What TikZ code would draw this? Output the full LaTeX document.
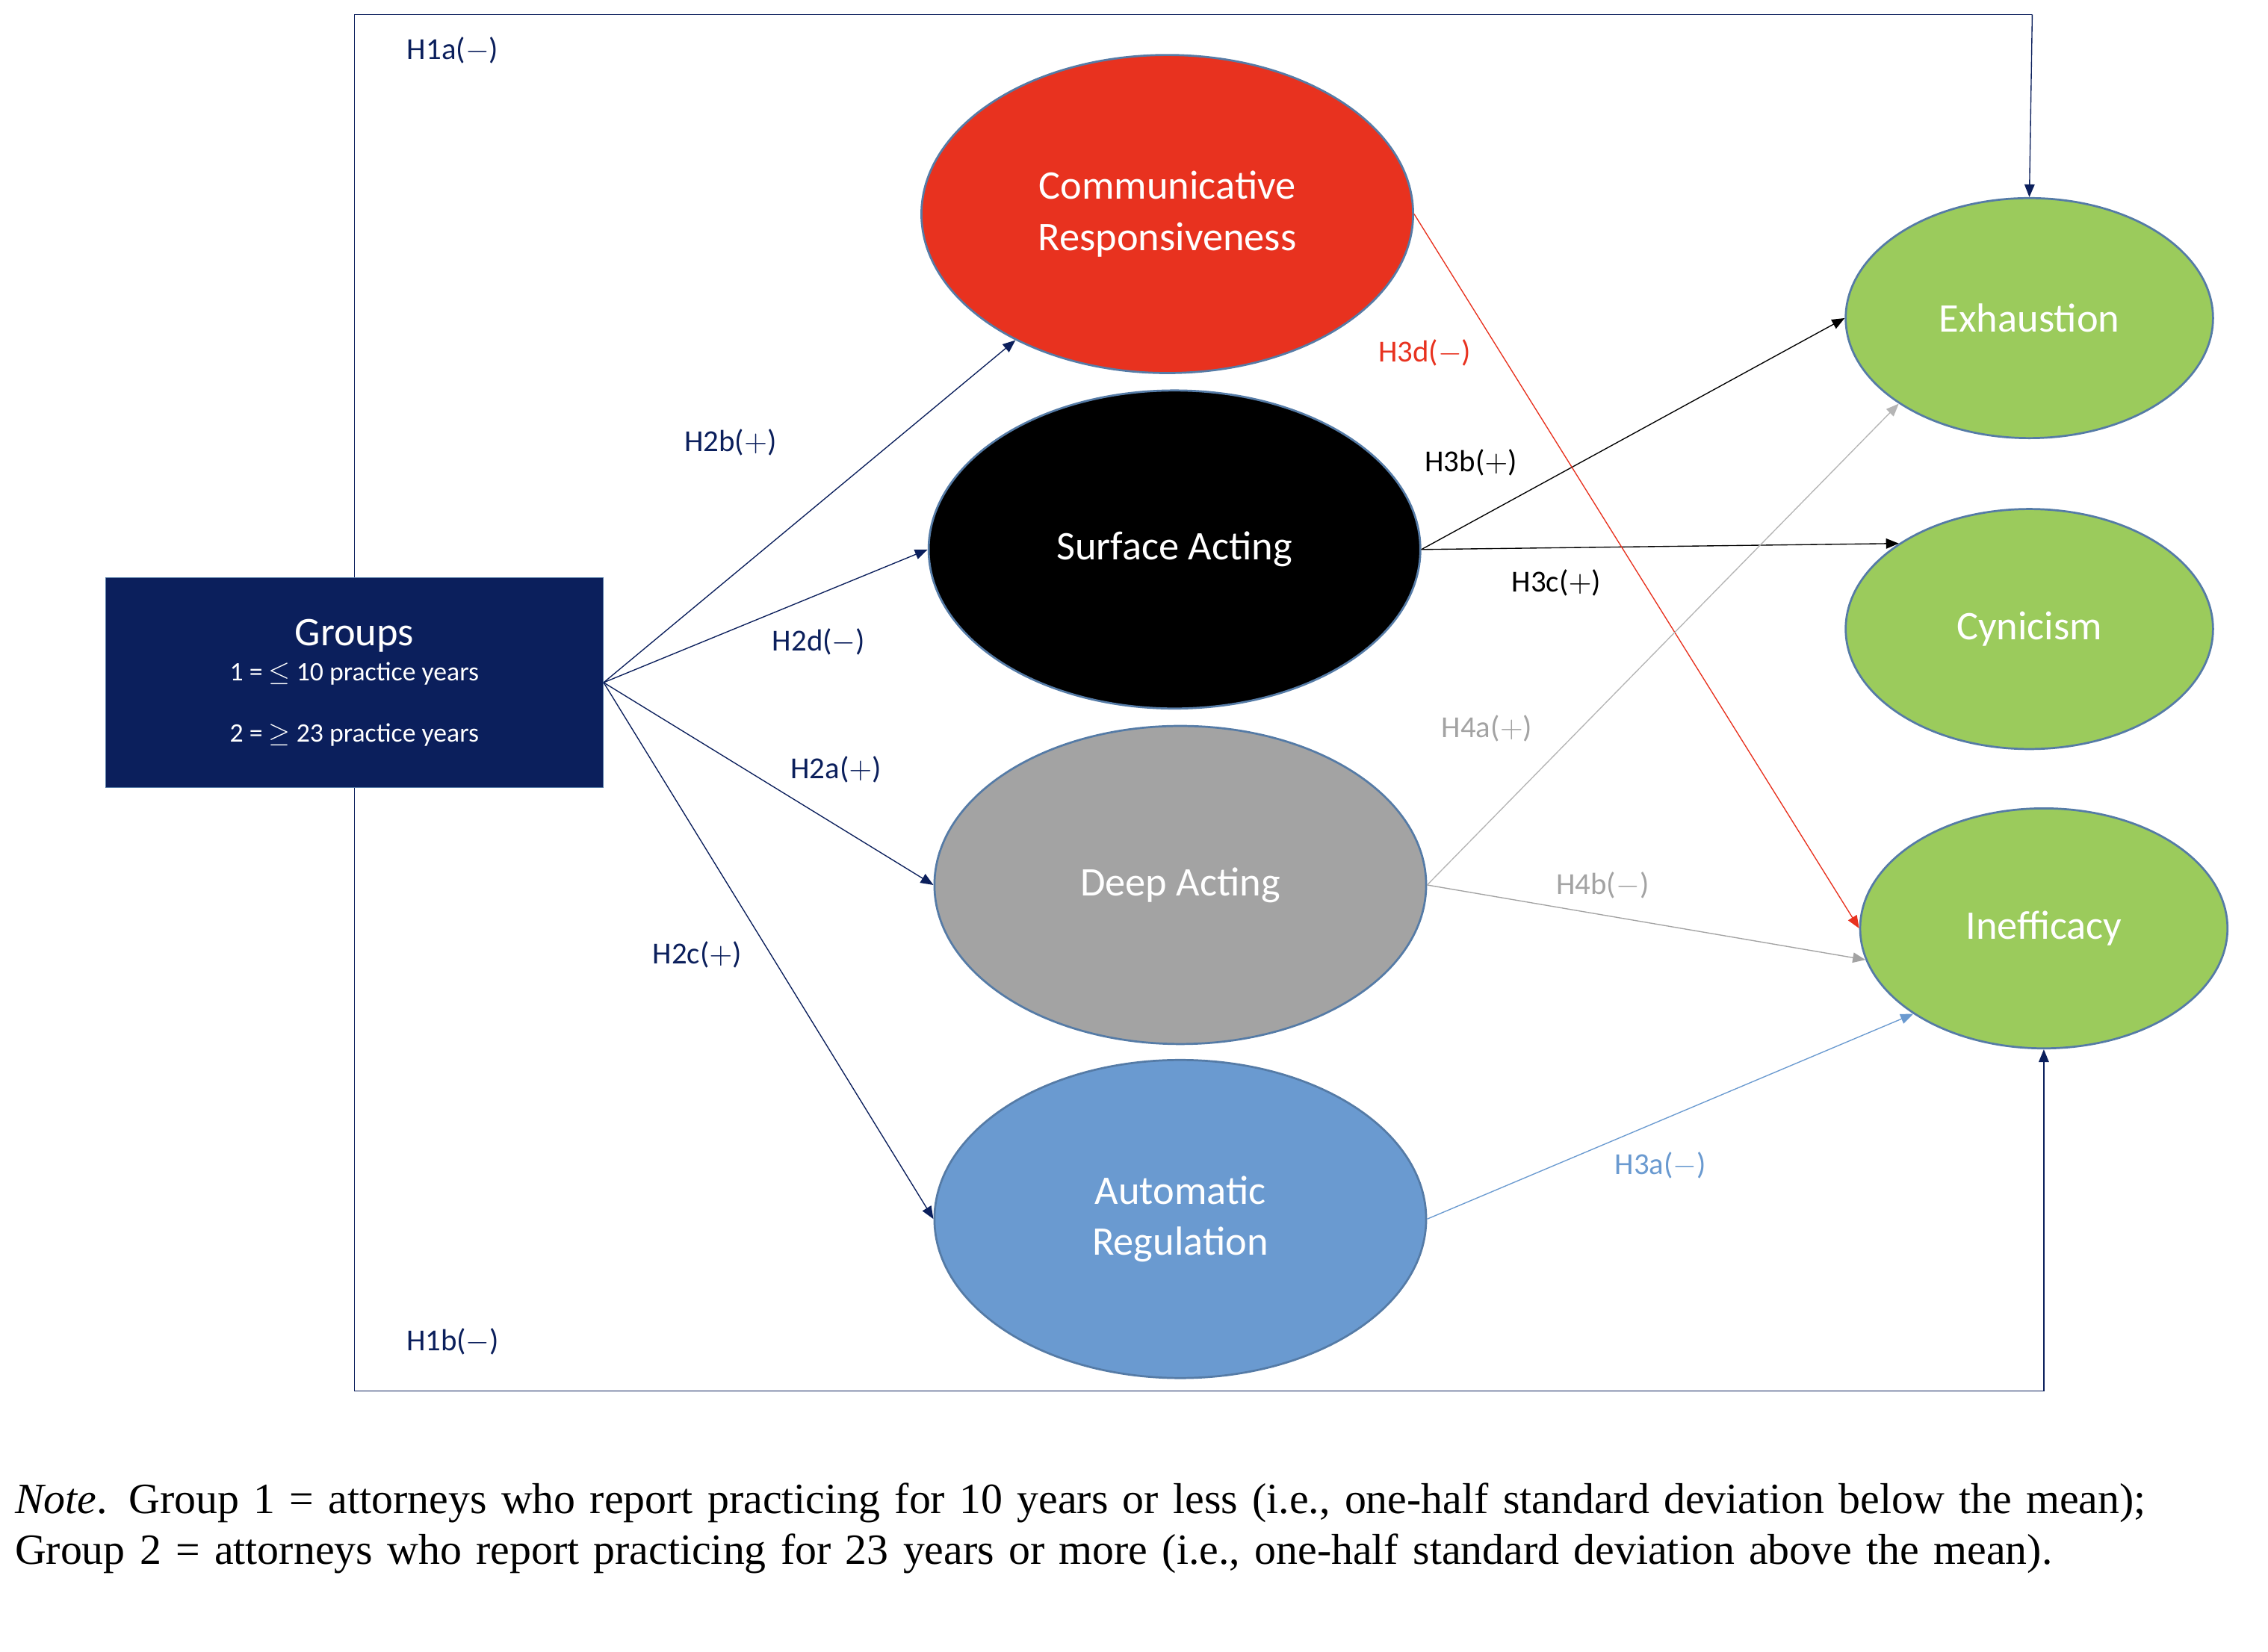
\documentclass[tikz,border=0pt]{standalone}
\usepackage{fontspec}
\setmainfont{Carlito}
\newfontfamily\notefont{Liberation Serif}
\usetikzlibrary{shapes.geometric,arrows.meta}
\definecolor{navy}{HTML}{0B1F5C}
\definecolor{crred}{HTML}{E8321F}
\definecolor{dagray}{HTML}{A3A3A3}
\definecolor{arblue}{HTML}{6A9AD0}
\definecolor{grn}{HTML}{9BCB5C}
\begin{document}
\begin{tikzpicture}[x=0.02cm,y=-0.02cm,
  ell/.style={ellipse,draw=arblue!80!black,line width=0.8pt,minimum width=6.8cm,minimum height=4.4cm,text=white,font=\fontsize{16}{20}\selectfont,align=center,inner sep=0pt},
  outc/.style={ellipse,draw=arblue!80!black,line width=0.8pt,fill=grn,minimum width=5.08cm,minimum height=3.32cm,text=white,font=\fontsize{16}{20}\selectfont,inner sep=0pt},
  arr/.style={-{Triangle[length=5pt,width=4pt]},line width=0.4pt},
  lab/.style={font=\fontsize{12}{14}\selectfont}]
\useasboundingbox (0,0) rectangle (1568,1142);
\node[ell,fill=crred] (cr) at (807,148) {Communicative\\Responsiveness};
\node[ell,fill=black] (sa) at (812,380) {Surface Acting};
\node[ell,fill=dagray] (da) at (816,612) {Deep Acting};
\node[ell,fill=arblue] (ar) at (816,843) {Automatic\\Regulation};
\node[outc] (ex) at (1403,220) {Exhaustion};
\node[outc] (cy) at (1403,435) {Cynicism};
\node[outc] (in) at (1413,642) {Inefficacy};
\node[draw=arblue!80!black,fill=navy,minimum width=6.88cm,minimum height=2.9cm,text=white,align=center,inner sep=0pt] (g) at (245,472)
 {{\fontsize{16}{18}\selectfont Groups}\\[2pt]{\fontsize{10.5}{12}\selectfont 1 = $\leq$ 10 practice years}\\[12pt]{\fontsize{10.5}{12}\selectfont 2 = $\geq$ 23 practice years}};
\coordinate (tl) at (245,10); \coordinate (tr) at (1405,10);
\coordinate (bl) at (245,962); \coordinate (br) at (1413,962);
\draw[navy,line width=0.4pt] (g.north -| tl) -- (tl) -- (tr);
\draw[navy,arr] (tr) -- (ex.north);
\draw[navy,line width=0.4pt] (g.south -| bl) -- (bl) -- (br);
\draw[navy,arr] (br) -- (in.south);
\node[lab,text=navy] at (313,35) {H1a($-$)};
\node[lab,text=navy] at (313,928) {H1b($-$)};
\draw[navy,arr] (g.east) -- (cr);
\draw[navy,arr] (g.east) -- (sa.west);
\draw[navy,arr] (g.east) -- (da.west);
\draw[navy,arr] (g.east) -- (ar.west);
\node[lab,text=navy] at (505,306) {H2b($+$)};
\node[lab,text=navy] at (566,444) {H2d($-$)};
\node[lab,text=navy] at (578,532) {H2a($+$)};
\node[lab,text=navy] at (482,660) {H2c($+$)};
\draw[arr,black] (sa.east) -- (ex.west);
\draw[arr,black] (sa.east) -- (cy.north west);
\node[lab] at (1017,320) {H3b($+$)};
\node[lab] at (1076,403) {H3c($+$)};
\draw[arr,crred] (cr.east) -- (in.west);
\node[lab,text=crred] at (985,244) {H3d($-$)};
\draw[arr,dagray!80!white] (da.east) -- (ex.south west);
\draw[arr,dagray] (da.east) -- (in.190);
\node[lab,text=dagray] at (1028,504) {H4a($+$)};
\node[lab,text=dagray] at (1108,612) {H4b($-$)};
\draw[arr,arblue] (ar.east) -- (in.south west);
\node[lab,text=arblue] at (1148,806) {H3a($-$)};
\node[anchor=north west,text width=30.9cm,font=\notefont\fontsize{17}{20}\selectfont,align=left,inner sep=0pt] (note) at (10,1025)
 {\textit{Note}. Group 1 = attorneys who report practicing for 10 years or less (i.e., one-half standard deviation below the mean); Group 2 = attorneys who report practicing for 23 years or more (i.e., one-half standard deviation above the mean).};
\end{tikzpicture}
\end{document}
